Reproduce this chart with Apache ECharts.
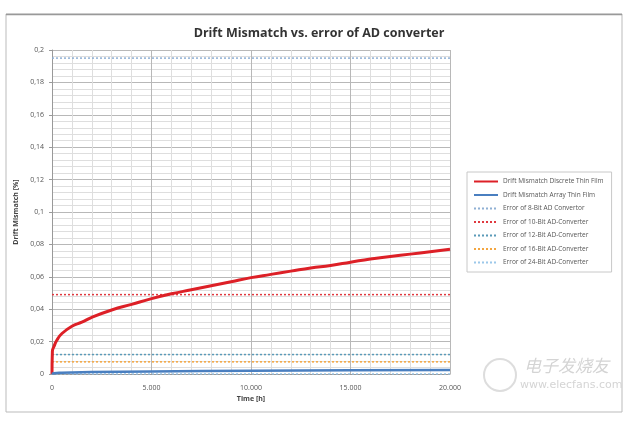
<!DOCTYPE html>
<html><head><meta charset="utf-8">
<script src="https://cdn.jsdelivr.net/npm/echarts@6/dist/echarts.min.js"></script>
<style>html,body{margin:0;padding:0;background:#fff}#c{width:626px;height:431px}</style>
</head><body><div id="c"></div>
<script>
const timeH = [0, 20, 100, 250, 500, 1000, 1500, 2000, 3000, 4000, 5000, 6000, 7000, 8000, 9000, 10000, 11000, 12000, 13000, 14000, 15000, 16000, 17000, 18000, 19000, 20000];
const discreteThinFilm = [0, 0.014, 0.017, 0.021, 0.025, 0.0295, 0.032, 0.035, 0.0395, 0.043, 0.0465, 0.0495, 0.052, 0.0545, 0.057, 0.0595, 0.0615, 0.0635, 0.0655, 0.067, 0.069, 0.071, 0.0725, 0.074, 0.0755, 0.077];
const arrayTimeH = [0, 100, 500, 1000, 2000, 5000, 10000, 15000, 20000];
const arrayThinFilm = [0, 0.0005, 0.0008, 0.001, 0.0012, 0.0016, 0.002, 0.0023, 0.0025];
const adcNames = ['Error of 8-Bit AD Convertor', 'Error of 10-Bit AD-Converter', 'Error of 12-Bit AD-Converter', 'Error of 16-Bit AD-Converter', 'Error of 24-Bit AD-Converter'];
const adcErrors = [0.195, 0.049, 0.012, 0.0075, 0.00003];
const adcColors = ['#8fb0d4', '#e0393f', '#5a9ab8', '#f4a640', '#9cc8ea'];
const xRange = [0, 20000];
const yTicks = ['0', '0,02', '0,04', '0,06', '0,08', '0,1', '0,12', '0,14', '0,16', '0,18', '0,2'];
const xTicks = ['0', '5.000', '10.000', '15.000', '20.000'];

const chart = echarts.init(document.getElementById('c'));
const series = [
  {name: 'Drift Mismatch Discrete Thin Film', type: 'line', smooth: true, symbol: 'none', showSymbol: false, z: 5,
   data: timeH.map((t, i) => [t, discreteThinFilm[i]]),
   lineStyle: {color: '#dd2027', width: 3}, itemStyle: {color: '#dd2027'}},
  {name: 'Drift Mismatch Array Thin Film', type: 'line', smooth: true, symbol: 'none', showSymbol: false, z: 5,
   data: arrayTimeH.map((t, i) => [t, arrayThinFilm[i]]),
   lineStyle: {color: '#4a7fc0', width: 2.5}, itemStyle: {color: '#4a7fc0'}}
];
adcNames.forEach((n, i) => series.push({
  name: n, type: 'line', symbol: 'none', showSymbol: false, z: 4,
  data: xRange.map(x => [x, adcErrors[i]]),
  lineStyle: {color: adcColors[i], width: 1.5, type: [2, 2]}, itemStyle: {color: adcColors[i]}
}));

chart.setOption({
  animation: false,
  backgroundColor: '#fff',
  title: {text: 'Drift Mismatch vs. error of AD converter', left: 314, top: 22, textAlign: 'center',
    textStyle: {fontFamily: 'Open Sans', fontSize: 12.5, fontWeight: 'bold', color: '#333'}},
  graphic: [
    {type: 'rect', shape: {x: 6, y: 14, width: 616, height: 398}, style: {fill: 'none', stroke: '#bbb', lineWidth: 1}, silent: true},
    {type: 'line', shape: {x1: 6, y1: 14.5, x2: 622, y2: 14.5}, style: {stroke: '#999', lineWidth: 1.5}, silent: true},
    {type: 'text', left: 524, top: 357, style: {text: '电子发烧友', fontFamily: 'Noto Sans CJK SC', fontSize: 17, fill: '#d4d4d4', fontStyle: 'italic'}, silent: true},
    {type: 'text', left: 520, top: 380, style: {text: 'www.elecfans.com', fontFamily: 'DejaVu Sans', fontSize: 11, fill: '#d4d4d4'}, silent: true},
    {type: 'circle', shape: {cx: 500, cy: 375, r: 16}, style: {fill: 'none', stroke: '#dddddd', lineWidth: 2}, silent: true}
  ],
  legend: {
    orient: 'vertical', left: 467, top: 172, itemWidth: 24, itemHeight: 8, itemGap: 6.5,
    padding: [6, 8, 6, 6], borderColor: '#c8c8c8', borderWidth: 1,
    itemStyle: {opacity: 0},
    textStyle: {fontFamily: 'Open Sans', fontSize: 6.5, color: '#555'},
    data: series.map(s => s.name)
  },
  grid: {left: 52, right: 176, top: 50, bottom: 57},
  xAxis: {
    type: 'value', min: 0, max: 20000, interval: 5000,
    name: 'Time [h]', nameLocation: 'middle', nameGap: 21,
    nameTextStyle: {fontFamily: 'Open Sans', fontSize: 7, fontWeight: 'bold', color: '#444'},
    axisLine: {lineStyle: {color: '#999'}}, axisTick: {show: false},
    axisLabel: {fontFamily: 'Open Sans', fontSize: 7, color: '#555', margin: 10,
      formatter: v => xTicks[Math.round(v / 5000)]},
    splitLine: {show: true, lineStyle: {color: '#b8b8b8', width: 1}},
    minorTick: {show: false, splitNumber: 5},
    minorSplitLine: {show: true, lineStyle: {color: '#dedede', width: 1}}
  },
  yAxis: {
    type: 'value', min: 0, max: 0.2, interval: 0.02,
    name: 'Drift Mismatch [%]', nameLocation: 'middle', nameGap: 29, nameRotate: 90,
    nameTextStyle: {fontFamily: 'Open Sans', fontSize: 7, fontWeight: 'bold', color: '#444'},
    axisLine: {show: true, lineStyle: {color: '#999'}}, axisTick: {show: true, length: 3, lineStyle: {color: '#999'}},
    axisLabel: {fontFamily: 'Open Sans', fontSize: 7, color: '#555', margin: 8,
      formatter: v => yTicks[Math.round(v / 0.02)]},
    splitLine: {show: true, lineStyle: {color: '#b8b8b8', width: 1}},
    minorTick: {show: false, splitNumber: 5},
    minorSplitLine: {show: true, lineStyle: {color: '#dedede', width: 1}}
  },
  series: series
});
</script></body></html>
